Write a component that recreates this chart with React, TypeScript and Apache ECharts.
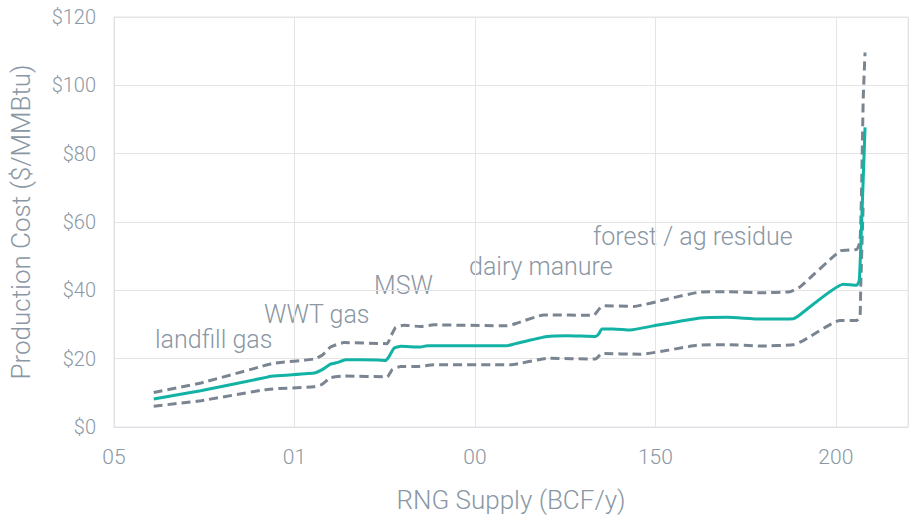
import React, { useEffect, useRef } from "react";
import * as echarts from "echarts";

// RNG supply (BCF/y) and production cost ($/MMBtu)
const midSupply = [11, 24, 42.5, 44, 55.4, 57.7, 60, 62, 64.2, 73, 75.3, 76.2, 77.6, 79.4, 84.9, 86.8, 108.9, 111.2, 120, 125.5, 133.4, 134.3, 135.2, 138.4, 143.1, 149.5, 162.4, 170, 179, 188.2, 189.6, 202.1, 205.8, 206.5, 207.1, 208.1];
const midCost = [8.2, 10.6, 14.6, 14.9, 15.8, 16.8, 18.4, 18.9, 19.7, 19.6, 19.5, 20.6, 23.1, 23.6, 23.4, 23.8, 23.8, 24.4, 26.5, 26.7, 26.5, 27.2, 28.7, 28.7, 28.4, 29.6, 31.9, 32.1, 31.6, 31.7, 32.5, 41.8, 41.5, 42.9, 58.2, 87.7];

const highSupply = [11, 24.1, 42.5, 44.4, 55.4, 57.7, 60, 63.7, 75.7, 76.6, 78, 80.3, 84.9, 88.6, 108.9, 111.7, 119.1, 132.9, 134.3, 135.7, 144, 153.2, 162.4, 170, 179, 187.3, 190.1, 201.2, 205.8, 206.7, 207.1, 207.6, 208.1];
const highCost = [10.1, 12.9, 18.2, 18.7, 19.9, 21, 23.4, 24.7, 24.4, 26.3, 29.1, 29.8, 29.4, 29.9, 29.6, 30.4, 32.8, 32.7, 34.4, 35.5, 35.3, 37.4, 39.5, 39.6, 39.3, 39.6, 41, 51.5, 52, 54.4, 67.7, 96.3, 109.6];

const lowSupply = [11, 24.1, 42.5, 55.4, 57.7, 60, 63.7, 75.7, 77.1, 79.4, 84, 88.6, 109.9, 120, 133.4, 135.2, 145.8, 161.5, 170, 179, 188.2, 191, 201.2, 205.8, 206.7, 206.9, 207.6];
const lowCost = [6.1, 7.7, 11, 11.8, 12.5, 14.4, 14.9, 14.7, 16.8, 17.7, 17.7, 18.2, 18.2, 20.1, 19.9, 21.5, 21.3, 23.9, 24.1, 23.7, 24.1, 25.3, 31.2, 31.2, 32.5, 41.1, 65.8];

const xTickValues = [0, 50, 100, 150, 200];
const xTickLabels = ["05", "01", "00", "150", "200"];

const annotations = [
  { text: "landfill gas", x: 155, y: 341 },
  { text: "WWT gas", x: 264, y: 316 },
  { text: "MSW", x: 374, y: 287 },
  { text: "dairy manure", x: 469, y: 268 },
  { text: "forest / ag residue", x: 593, y: 238 },
];

const pairs = (xs: number[], ys: number[]) => xs.map((x, i) => [x, ys[i]]);

const FONT = "Roboto";
const TEXT = "#8a97a4";
const TEAL = "#12b2a5";
const GRAY = "#7a8591";

export default function App() {
  const ref = useRef<HTMLDivElement>(null);
  useEffect(() => {
    if (!ref.current) return;
    const chart = echarts.init(ref.current, null, { renderer: "svg" });
    chart.setOption({
      animation: false,
      grid: {
        left: 113,
        top: 17,
        right: 4,
        bottom: 81,
        show: true,
        borderColor: "#e2e4e7",
        borderWidth: 1,
      },
      xAxis: {
        type: "value",
        min: 0,
        max: 220,
        interval: 50,
        name: "RNG Supply (BCF/y)",
        nameLocation: "middle",
        nameGap: 60,
        nameTextStyle: { color: TEXT, fontSize: 26, fontFamily: FONT, fontWeight: 300 },
        axisLine: { show: true, lineStyle: { color: "#dde1e5" } },
        axisTick: { show: false },
        axisLabel: {
          color: TEXT,
          fontSize: 21,
          fontFamily: FONT,
          fontWeight: 300,
          margin: 19,
          formatter: (v: number) => {
            const i = xTickValues.indexOf(v);
            return i >= 0 ? xTickLabels[i] : "";
          },
        },
        splitLine: { show: true, lineStyle: { color: "#e4e4e4" } },
      },
      yAxis: {
        type: "value",
        min: 0,
        max: 120,
        interval: 20,
        name: "Production Cost ($/MMBtu)",
        nameLocation: "middle",
        nameGap: 80,
        nameTextStyle: { color: TEXT, fontSize: 26, fontFamily: FONT, fontWeight: 300 },
        axisLine: { show: true, lineStyle: { color: "#dde1e5" } },
        axisTick: { show: false },
        axisLabel: {
          color: TEXT,
          fontSize: 20,
          fontFamily: FONT,
          fontWeight: 300,
          margin: 18,
          formatter: (v: number) => "$" + v,
        },
        splitLine: { show: true, lineStyle: { color: "#e4e4e4" } },
      },
      series: [
        {
          type: "line",
          data: pairs(highSupply, highCost),
          showSymbol: false,
          smooth: 0.15,
          lineStyle: { color: GRAY, width: 3, type: [9, 5] },
        },
        {
          type: "line",
          data: pairs(lowSupply, lowCost),
          showSymbol: false,
          smooth: 0.15,
          lineStyle: { color: GRAY, width: 3, type: [9, 5] },
        },
        {
          type: "line",
          data: pairs(midSupply, midCost),
          showSymbol: false,
          smooth: 0.15,
          lineStyle: { color: TEAL, width: 3 },
        },
      ],
      graphic: annotations.map((a) => ({
        type: "text",
        left: a.x,
        top: a.y - 14,
        style: {
          text: a.text,
          fill: TEXT,
          fontSize: 25,
          fontFamily: FONT,
          fontWeight: 300,
        },
      })),
    });
    return () => chart.dispose();
  }, []);
  return (
    <div
      ref={ref}
      style={{ position: "absolute", left: 0, top: 0, width: 912, height: 518 }}
    />
  );
}
